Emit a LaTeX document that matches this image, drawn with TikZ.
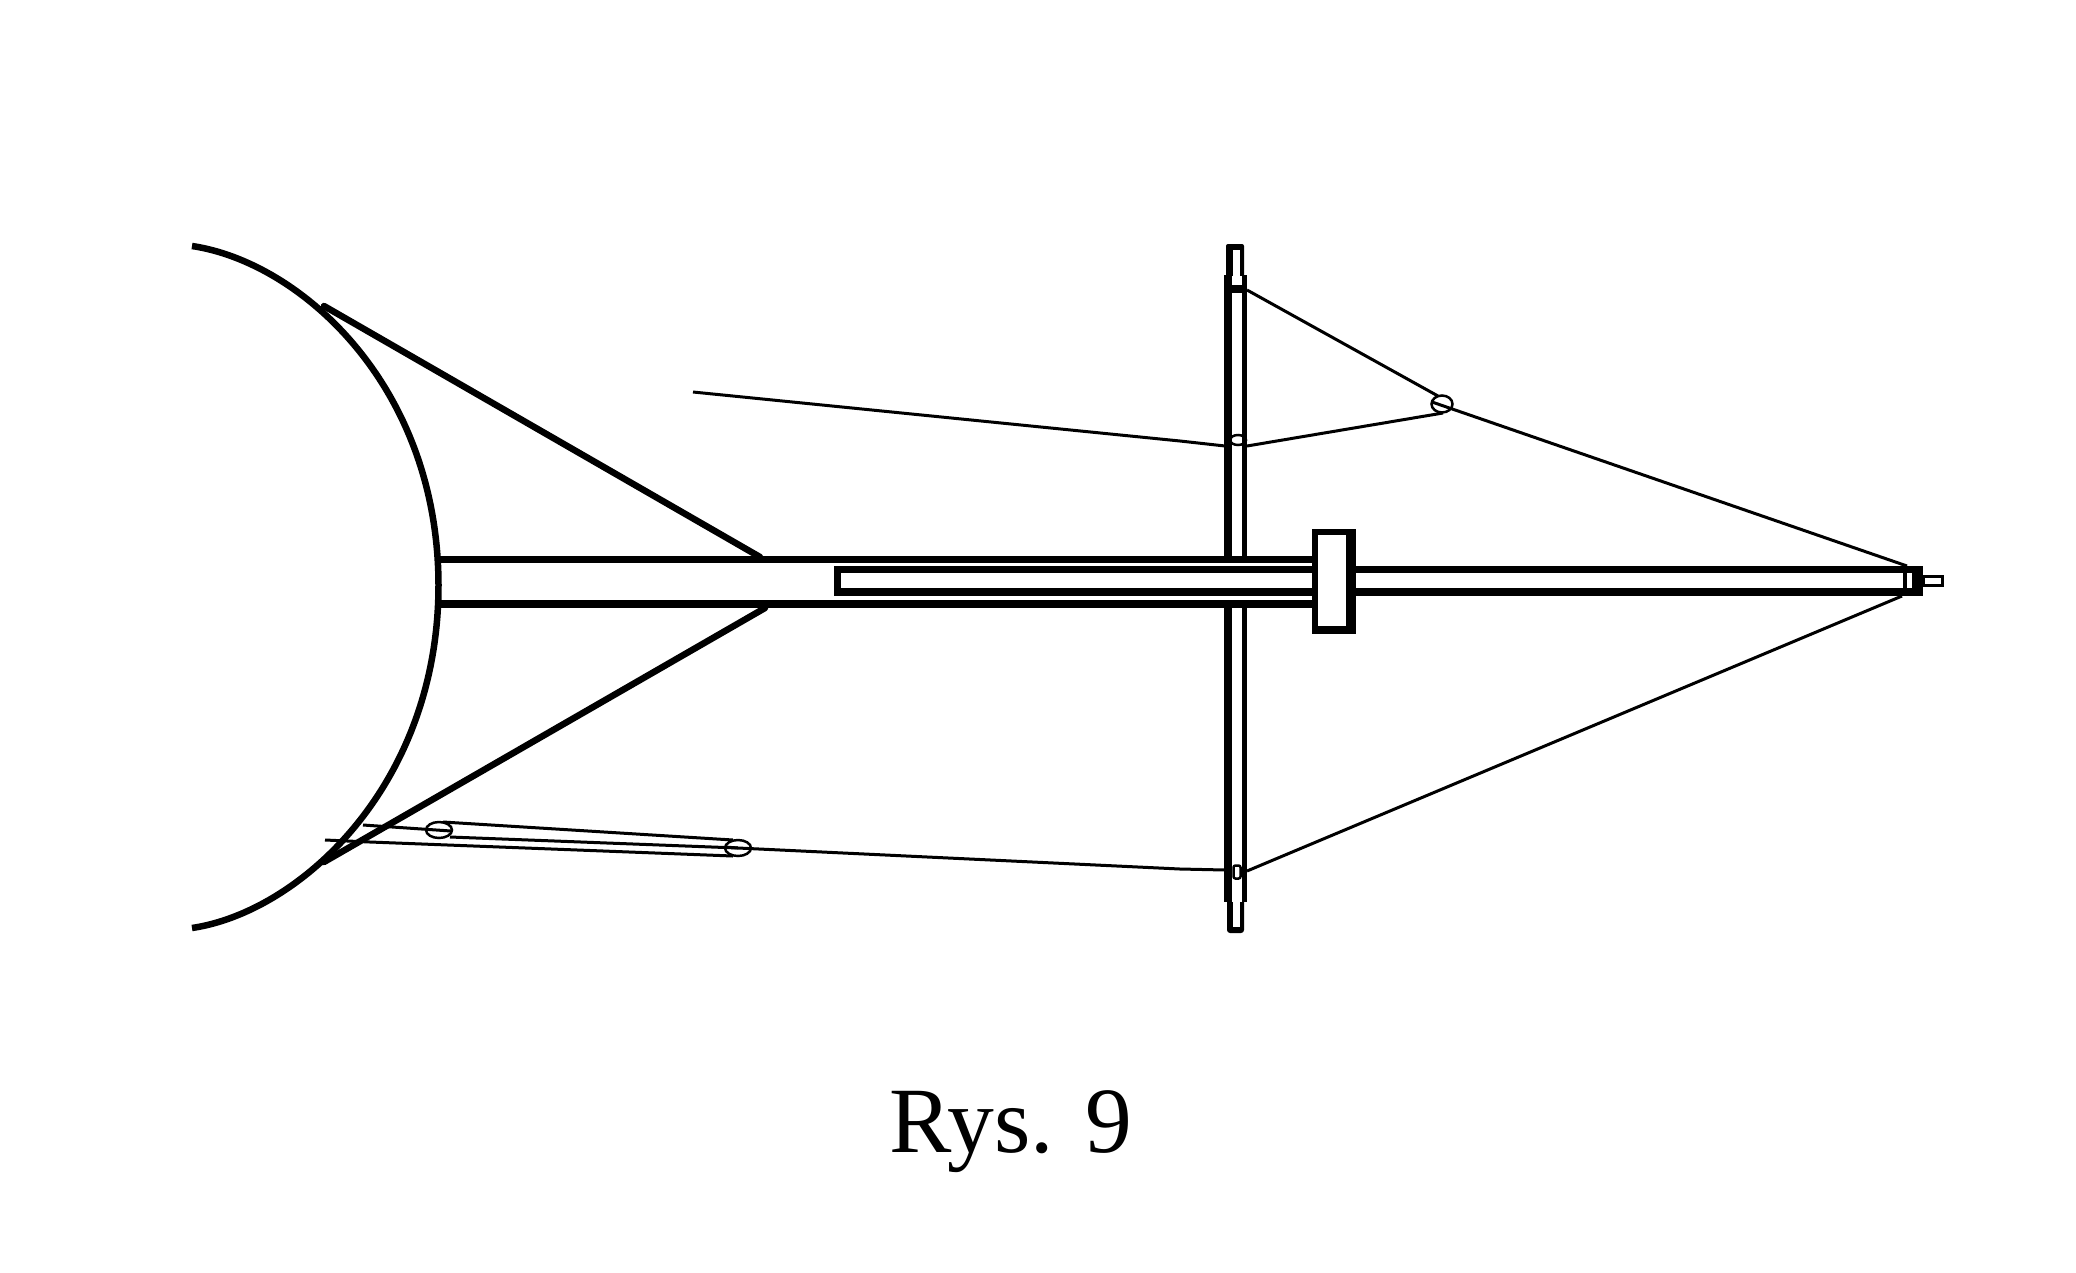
\documentclass[tikz,border=0pt]{standalone}
\usepackage{fontspec}
\setmainfont{Liberation Serif}
\tikzset{
  wall/.style={fill=black,draw=none},
  heavyline/.style={draw=black,line width=6.5pt},
  thinline/.style={draw=black,line width=3pt},
  ring/.style={draw=black,fill=none,line width=2.5pt},
  caption/.style={inner sep=0pt,anchor=base west,font=\fontsize{93.5}{94}\selectfont}
}
\begin{document}
\begin{tikzpicture}[x=1pt,y=-1pt]
\useasboundingbox (0,0) rectangle (2076,1272);
\fill[white] (0,0) rectangle (2076,1272);
% named points
\coordinate (armStart) at (324,306);
\coordinate (armEnd) at (760,557);
\coordinate (lowStart) at (324,862);
\coordinate (lowEnd) at (765,608);
\coordinate (topPin) at (1247,290);
\coordinate (midPin) at (1238,440);
\coordinate (botPin) at (1237,872);
\coordinate (freeEnd) at (693,392);
\coordinate (wardL) at (1225,446);
\coordinate (wardR) at (1247,446);
\coordinate (pulleyA) at (1442,404);
\coordinate (tipTop) at (1907,566);
\coordinate (tipBot) at (1902,596);
\coordinate (pulleyB) at (738,848);
\coordinate (pulleyC) at (439,830);
\coordinate (bowA) at (363,825);
\coordinate (bowB) at (325,840);
\coordinate (bowC) at (370,842);
% bow
\draw[heavyline] (192,246) .. controls (300,262) and (438,385) .. (438.5,585)
  .. controls (438.5,785) and (300,912) .. (192,928);
\draw[heavyline,line cap=round] (armStart) -- (armEnd);
\draw[heavyline,line cap=round] (lowStart) -- (lowEnd);
% cross spar
\fill[wall,rounded corners=2pt] (1226,244) rectangle (1244,283);
\fill[white] (1233,250) rectangle (1240,276);
\fill[wall] (1224,275) rectangle (1232,556);
\fill[wall] (1242,275) rectangle (1247,556);
\fill[white] (1232,276) rectangle (1242,285);
\fill[wall] (1224,285) rectangle (1247,293);
\fill[wall,rounded corners=3pt] (1227,890) rectangle (1244,933);
\fill[white] (1233,890) rectangle (1240,927);
\fill[wall] (1224,608) rectangle (1232,902);
\fill[wall] (1242,608) rectangle (1247,902);
\fill[white] (1232,608) rectangle (1242,902);
% main spar
\fill[wall] (436,556) rectangle (1312,563);
\fill[wall] (436,600) rectangle (1312,608);
\fill[wall] (834,566) rectangle (1312,573);
\fill[wall] (834,588) rectangle (1312,596);
\fill[wall] (834,566) rectangle (841,596);
\fill[wall] (1356,566) rectangle (1903,573);
\fill[wall] (1356,588) rectangle (1903,596);
% clamp
\fill[wall] (1312,529) rectangle (1356,634);
\fill[white] (1318,535) rectangle (1346,626);
% tip
\fill[wall] (1903,566) rectangle (1923,596);
\fill[white] (1907,573) rectangle (1912,588);
\draw[black,line width=2.6pt] (1924,576.3) rectangle (1942.7,585.7);
% thin lines
\draw[thinline] (topPin) -- (1438,396);
\draw[thinline] (1432,402) -- (tipTop);
\draw[thinline] (freeEnd) -- (1180,441) -- (wardL);
\draw[thinline] (wardR) -- (1443,413);
\draw[thinline] (tipBot) -- (1247,871);
\draw[thinline] (1225,870) -- (1180,869) -- (pulleyB) -- (725,847);
\draw[thinline] (443,822) -- (733,840);
\draw[thinline] (450,837) -- (pulleyB);
\draw[thinline] (bowA) -- (451,831);
\draw[thinline] (bowB) -- (bowC) -- (733,856);
\draw[ring] (pulleyA) ellipse [x radius=10.5,y radius=8.5];
\draw[ring] (midPin) ellipse [x radius=8,y radius=5];
\draw[ring,rounded corners=2pt] (1233.5,865.5) rectangle (1240.5,878.5);
\draw[ring] (pulleyB) ellipse [x radius=13,y radius=8];
\draw[ring] (pulleyC) ellipse [x radius=13,y radius=8];
\node[caption] (title) at (889,1152) {Rys. 9};
\end{tikzpicture}
\end{document}
